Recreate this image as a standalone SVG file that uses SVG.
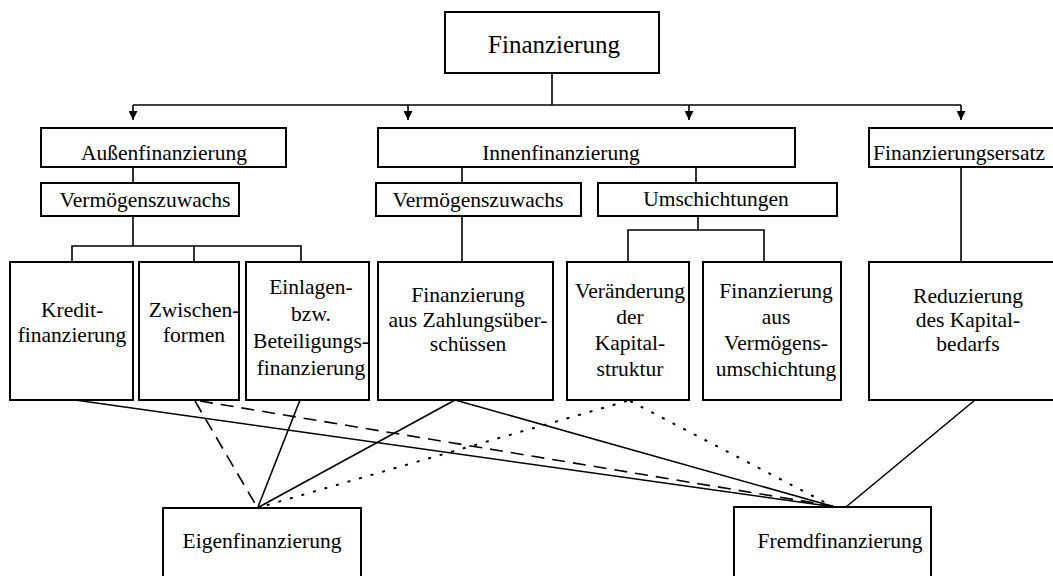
<svg xmlns="http://www.w3.org/2000/svg" width="1053" height="576" viewBox="0 0 1053 576" font-family="'Liberation Serif', 'DejaVu Serif', serif">
  <style>
    .box { fill: #fff; stroke: #000; stroke-width: 2; }
    .t { font-size: 21.5px; fill: #000; text-anchor: middle; }
    .big { font-size: 25px; }
    .ln { fill: none; stroke: #000; stroke-width: 1.6; }
    .dash { stroke-dasharray: 13 8; }
    .dot { stroke-dasharray: 3 9; stroke-width: 2; }
  </style>
  <defs>
    <marker id="arrow" viewBox="0 0 10 10" refX="10" refY="5" markerWidth="9" markerHeight="9" markerUnits="userSpaceOnUse" orient="auto">
      <path d="M0,0 L10,5 L0,10 z" fill="#000"/>
    </marker>
  </defs>
  <rect width="1053" height="576" fill="#fff"/>

  <!-- connectors -->
  <g id="connectors">
    <!-- root to the three main branches -->
    <line class="ln" x1="552" y1="73" x2="552" y2="105"/>
    <line class="ln" x1="133" y1="105" x2="961" y2="105"/>
    <line class="ln" x1="133" y1="105" x2="133" y2="120" marker-end="url(#arrow)"/>
    <line class="ln" x1="408" y1="105" x2="408" y2="120" marker-end="url(#arrow)"/>
    <line class="ln" x1="689" y1="105" x2="689" y2="120" marker-end="url(#arrow)"/>
    <line class="ln" x1="961" y1="105" x2="961" y2="120" marker-end="url(#arrow)"/>

    <!-- Außenfinanzierung subtree -->
    <line class="ln" x1="133" y1="167" x2="133" y2="183"/>
    <line class="ln" x1="133" y1="216" x2="133" y2="246"/>
    <polyline class="ln" points="72,262 72,246 301,246 301,262"/>
    <line class="ln" x1="194" y1="246" x2="194" y2="262"/>

    <!-- Innenfinanzierung subtree -->
    <line class="ln" x1="462" y1="167" x2="462" y2="183"/>
    <line class="ln" x1="696" y1="167" x2="696" y2="183"/>
    <line class="ln" x1="462" y1="216" x2="462" y2="262"/>
    <line class="ln" x1="698" y1="216" x2="698" y2="230"/>
    <polyline class="ln" points="628,262 628,230 764,230 764,262"/>

    <!-- Finanzierungsersatz subtree -->
    <line class="ln" x1="961" y1="167" x2="961" y2="262"/>

    <!-- assignment to Eigen-/Fremdfinanzierung -->
    <line class="ln" x1="75" y1="400" x2="835" y2="507"/>
    <line class="ln dash" x1="195" y1="401" x2="257" y2="507"/>
    <line class="ln dash" x1="200" y1="401" x2="833" y2="506"/>
    <line class="ln" x1="300" y1="400" x2="258" y2="507"/>
    <line class="ln" x1="455" y1="400" x2="259" y2="507"/>
    <line class="ln" x1="455" y1="400" x2="835" y2="507"/>
    <line class="ln dot" x1="627" y1="401" x2="264" y2="506"/>
    <line class="ln dot" x1="630" y1="401" x2="830" y2="505"/>
    <line class="ln" x1="975" y1="400" x2="846" y2="507"/>
  </g>

  <g id="finanzierung">
    <rect class="box" x="445" y="12" width="214" height="61"/>
    <text class="t big" x="554" y="53">Finanzierung</text>
  </g>

  <g id="aussenfinanzierung">
    <rect class="box" x="41" y="128" width="245" height="39"/>
    <text class="t" x="164" y="160">Außenfinanzierung</text>
  </g>
  <g id="innenfinanzierung">
    <rect class="box" x="378" y="128" width="417" height="39"/>
    <text class="t" x="561" y="160">Innenfinanzierung</text>
  </g>
  <g id="finanzierungsersatz">
    <rect class="box" x="869" y="128" width="197" height="39"/>
    <text class="t" x="873" y="160" style="text-anchor:start">Finanzierungsersatz</text>
  </g>

  <g id="vermoegenszuwachs-aussen">
    <rect class="box" x="41" y="183" width="198" height="33"/>
    <text class="t" x="145" y="207">Vermögenszuwachs</text>
  </g>
  <g id="vermoegenszuwachs-innen">
    <rect class="box" x="376" y="183" width="205" height="33"/>
    <text class="t" x="478" y="207">Vermögenszuwachs</text>
  </g>
  <g id="umschichtungen">
    <rect class="box" x="598" y="183" width="239" height="33"/>
    <text class="t" x="716" y="206">Umschichtungen</text>
  </g>

  <g id="kreditfinanzierung">
    <rect class="box" x="10" y="262" width="123" height="138"/>
    <text class="t" x="72" y="317">Kredit-</text>
    <text class="t" x="72" y="342">finanzierung</text>
  </g>
  <g id="zwischenformen">
    <rect class="box" x="139" y="262" width="100" height="138"/>
    <text class="t" x="194" y="317">Zwischen-</text>
    <text class="t" x="194" y="342">formen</text>
  </g>
  <g id="beteiligungsfinanzierung">
    <rect class="box" x="246" y="262" width="123" height="138"/>
    <text class="t" x="311" y="294">Einlagen-</text>
    <text class="t" x="311" y="321">bzw.</text>
    <text class="t" x="311" y="348">Beteiligungs-</text>
    <text class="t" x="311" y="375">finanzierung</text>
  </g>
  <g id="zahlungsueberschuesse">
    <rect class="box" x="378" y="262" width="175" height="138"/>
    <text class="t" x="468" y="302">Finanzierung</text>
    <text class="t" x="468" y="327">aus Zahlungsüber-</text>
    <text class="t" x="468" y="351">schüssen</text>
  </g>
  <g id="kapitalstruktur">
    <rect class="box" x="567" y="262" width="122" height="138"/>
    <text class="t" x="630" y="298">Veränderung</text>
    <text class="t" x="630" y="324">der</text>
    <text class="t" x="630" y="350">Kapital-</text>
    <text class="t" x="630" y="376">struktur</text>
  </g>
  <g id="vermoegensumschichtung">
    <rect class="box" x="703" y="262" width="138" height="138"/>
    <text class="t" x="776" y="298">Finanzierung</text>
    <text class="t" x="776" y="324">aus</text>
    <text class="t" x="776" y="350">Vermögens-</text>
    <text class="t" x="776" y="376">umschichtung</text>
  </g>
  <g id="kapitalbedarf">
    <rect class="box" x="869" y="262" width="197" height="138"/>
    <text class="t" x="968" y="303">Reduzierung</text>
    <text class="t" x="968" y="327">des Kapital-</text>
    <text class="t" x="968" y="351">bedarfs</text>
  </g>

  <g id="eigenfinanzierung">
    <rect class="box" x="163" y="508" width="198" height="80"/>
    <text class="t" x="262" y="548">Eigenfinanzierung</text>
  </g>
  <g id="fremdfinanzierung">
    <rect class="box" x="734" y="507" width="197" height="81"/>
    <text class="t" x="840" y="548">Fremdfinanzierung</text>
  </g>
</svg>
